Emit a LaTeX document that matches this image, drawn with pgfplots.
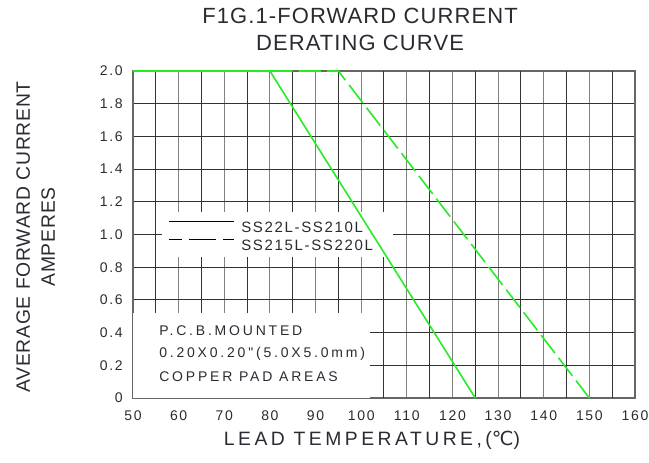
\documentclass[border=0pt]{standalone}
\usepackage{fontspec}
\setmainfont{Liberation Sans}
\newfontfamily\titlefont[LetterSpace=5]{Liberation Sans}
\newfontfamily\tickfont[LetterSpace=12]{Liberation Sans}
\newfontfamily\legfont[LetterSpace=11]{Liberation Sans}
\newfontfamily\notefont[LetterSpace=20]{Liberation Sans}
\newfontfamily\xlabfont[LetterSpace=18]{Liberation Sans}
\newfontfamily\ylabfont[LetterSpace=4]{Liberation Sans}
\newfontfamily\degfont{DejaVu Sans}
\usepackage{pgfplots}
\pgfplotsset{compat=1.18}
\definecolor{curve}{RGB}{40,235,40}
\definecolor{txt}{RGB}{40,44,50}
\begin{document}
\begin{tikzpicture}
\begin{axis}[
  at={(0pt,0pt)}, anchor=south west,
  scale only axis, width=376.5pt, height=245.25pt,
  xmin=50, xmax=160, ymin=0, ymax=2,
  clip=false,
  xtick={50,60,70,80,90,100,110,120,130,140,150,160},
  ytick={0,0.2,0.4,0.6,0.8,1.0,1.2,1.4,1.6,1.8,2.0},
  yticklabels={0,0.2,0.4,0.6,0.8,1.0,1.2,1.4,1.6,1.8,2.0},
  xticklabels={50,60,70,80,90,100,110,120,130,140,150,160},
  extra x ticks={55,65,75,85,95,104.9,115,125,135,145,155},
  extra x tick labels={},
  extra x tick style={xmajorgrids=true, major x grid style={color=black!80, line width=0.8pt}},
  xmajorgrids=true, ymajorgrids=true,
  major x grid style={color=black!50, line width=0.8pt},
  major y grid style={color=black!80, line width=0.8pt},
  tick style={draw=none},
  axis line style={color=black!60, line width=0.8pt},
  /pgf/number format/assume math mode=true,
  tick label style={font=\tickfont\fontsize{10.5}{12}\selectfont, text=txt, inner sep=0pt},
  yticklabel style={anchor=east, xshift=-7.5pt},
  xticklabel style={anchor=north, yshift=-9pt},
  legend style={at={(axis cs:57.67,1.084)}, anchor=north west, fill=none, draw=none,
    font=\legfont\fontsize{11.25}{12}\selectfont, text=txt, row sep=5pt, column sep=5.25pt,
    inner sep=0pt, nodes={inner sep=0pt, text height=8.5pt, text depth=0pt}},
  legend cell align=left,
  legend image code/.code={\draw[#1] (0pt,3.75pt) -- (48.75pt,3.75pt);},
]
\fill[white] (axis cs:56.35,0.862) rectangle (axis cs:106.97,1.138);
\fill[white] (axis cs:50,0) rectangle (axis cs:102,0.52);
\addplot[curve, line width=1.2pt, forget plot] coordinates {(50,2) (80,2) (125,0)};
\addplot[curve, line width=1.2pt, dash pattern=on 17pt off 4.5pt, forget plot] coordinates {(80,2) (95,2) (150,0)};
\addlegendimage{black, line width=0.8pt}
\addlegendentry{SS22L-SS210L}
\addlegendimage{black, line width=0.8pt, dash pattern=on 20.25pt off 5.25pt, dash phase=10.5pt}
\addlegendentry{SS215L-SS220L}
\node[anchor=base west, font=\notefont\fontsize{10.5}{12}\selectfont, text=txt, inner sep=0pt] at (axis cs:55.7,0.385) {P.C.B.MOUNTED};
\node[anchor=base west, font=\notefont\fontsize{10.5}{12}\selectfont, text=txt, inner sep=0pt] at (axis cs:55.7,0.245) {0.20X0.20"(5.0X5.0mm)};
\node[anchor=base west, font=\notefont\fontsize{10.5}{12}\selectfont, text=txt, inner sep=0pt] at (axis cs:55.7,0.104) {COPPER PAD AREAS};
\end{axis}
\node[anchor=base, font=\titlefont\fontsize{16.5}{18}\selectfont, text=txt, inner sep=0pt] at (170.25pt,281.25pt) {F1G.1-FORWARD CURRENT};
\node[anchor=base, font=\titlefont\fontsize{16.5}{18}\selectfont, text=txt, inner sep=0pt] at (170.25pt,261pt) {DERATING CURVE};
\node[anchor=base, rotate=90, font=\ylabfont\fontsize{14.5}{16}\selectfont, text=txt, inner sep=0pt] at (-77.25pt,120.75pt) {AVERAGE FORWARD CURRENT};
\node[anchor=base, rotate=90, font=\ylabfont\fontsize{14.5}{16}\selectfont, text=txt, inner sep=0pt] at (-58.5pt,120.75pt) {AMPERES};
\node[anchor=base, font=\xlabfont\fontsize{14.5}{16}\selectfont, text=txt, inner sep=0pt] at (179.25pt,-35.25pt) {LEAD TEMPERATURE,({\degfont ℃})};
\useasboundingbox (-99.75pt,-48pt) rectangle (387pt,298.5pt);
\end{tikzpicture}
\end{document}
